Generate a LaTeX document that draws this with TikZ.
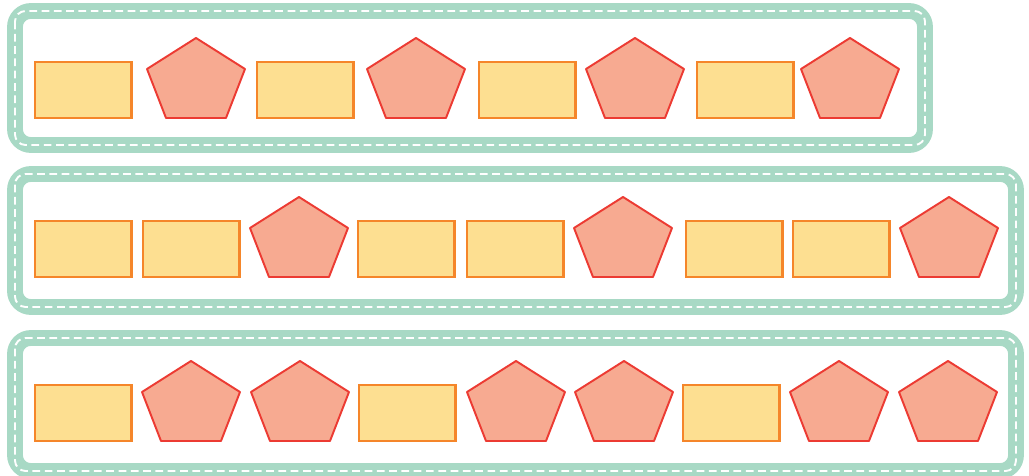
\documentclass[tikz,border=0pt]{standalone}
\usepackage{tikz}

\definecolor{bandgreen}{HTML}{A8D9C5}
\definecolor{boxfill}{HTML}{FDDF91}
\definecolor{boxline}{HTML}{F5862A}
\definecolor{pentfill}{HTML}{F7AA91}
\definecolor{pentline}{HTML}{EC3B33}

\tikzset{
    band/.style={draw=bandgreen, line width=9pt, rounded corners=9pt},
    stitch/.style={draw=white, line width=1.1pt, rounded corners=6pt,
        dash pattern=on 4.4pt off 2.6pt},
    block/.style={draw=boxline, fill=boxfill, line width=1.35pt},
    pent/.style={draw=pentline, fill=pentfill, line width=1.1pt, line join=round}
}

\begin{document}
\begin{tikzpicture}[x=0.02cm, y=-0.02cm]
    \useasboundingbox (0,0) rectangle (1029,476);
    \pgfmathsetmacro{\bw}{96.5}
    \pgfmathsetmacro{\bh}{56}
    % frames
    \foreach \t/\b/\r in {11/145/925, 174/307/1016, 338/471/1016} {
        \draw[band] (15,\t) rectangle (\r,\b);
        \draw[stitch] (15,\t) rectangle (\r,\b);
    }
    % rectangles
    \foreach \x/\b in {35/118, 257/118, 479/118, 697/118,
                       35/277, 143/277, 358/277, 467/277, 686/277, 793/277,
                       35/441, 359/441, 683/441} {
        \draw[block] (\x,\b) rectangle +(\bw,-\bh);
    }
    % pentagons
    \foreach \x/\b in {147/118, 367/118, 586/118, 801/118,
                       250/277, 574/277, 900/277,
                       142/441, 251/441, 467/441, 575/441, 790/441, 899/441} {
        \draw[pent] (\x+19,\b) -- (\x+79,\b) -- (\x+98,\b-49)
            -- (\x+49,\b-80) -- (\x,\b-49) -- cycle;
    }
\end{tikzpicture}
\end{document}
